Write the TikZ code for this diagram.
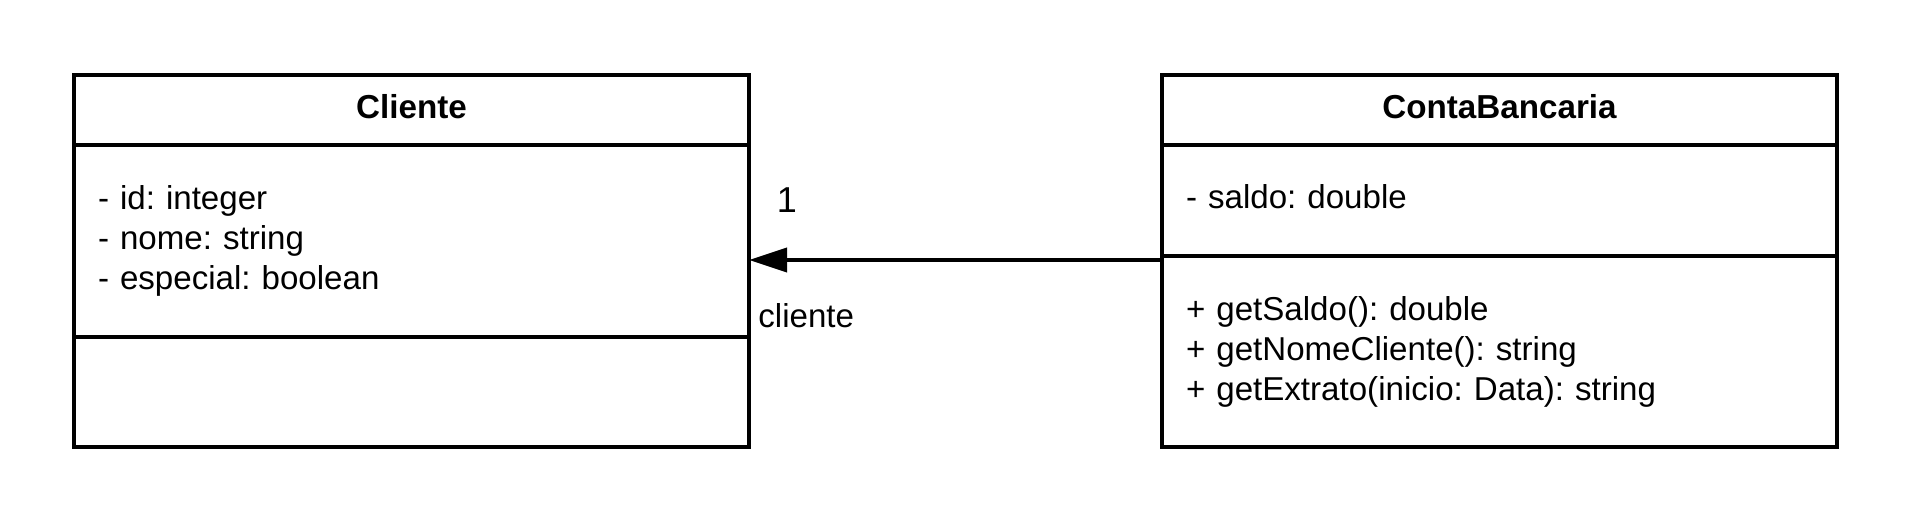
\documentclass[tikz,border=0pt]{standalone}
\usepackage{fontspec}
\setmainfont{Liberation Sans}
\usetikzlibrary{positioning,arrows.meta}

\tikzset{
  umlpart/.style={draw, line width=1.9pt, rectangle, outer sep=0pt, inner xsep=12pt, inner ysep=0pt,
    minimum width=337.5pt, text width=313.5pt, align=left, font=\fontsize{16.55}{20}\selectfont},
  umlhead/.style={umlpart, minimum height=35.15pt, text depth=4pt, align=center, font=\fontsize{16.6}{20}\selectfont\bfseries},
  assoc/.style={line width=1.9pt, -{Triangle[length=19pt,width=12pt]}},
  endlabel/.style={inner sep=0pt, font=\fontsize{16.55}{20}\selectfont},
}

\begin{document}
\frenchspacing
\begin{tikzpicture}[x=0.5pt,y=-0.5pt]
	\useasboundingbox (0,0) rectangle (1913,523);
	% class Cliente
	\node[umlhead, anchor=north west] (cliHead) at (74,75) {Cliente};
	\node[umlpart, below=0pt of cliHead, minimum height=95.7pt] (cliAttr) {- id: integer\\- nome: string\\- especial: boolean};
	\node[umlpart, below=0pt of cliAttr, minimum height=55.3pt] (cliOps) {};
	% class ContaBancaria
	\node[umlhead, anchor=north west] (contaHead) at (1162,75) {ContaBancaria};
	\node[umlpart, below=0pt of contaHead, minimum height=55.2pt, text depth=3.7pt] (contaAttr) {- saldo: double};
	\node[umlpart, below=0pt of contaAttr, minimum height=95.8pt] (contaOps) {+ getSaldo(): double\\+ getNomeCliente(): string\\+ getExtrato(inicio: Data): string};
	% association
	\coordinate (assocY) at (0,260);
	\draw[assoc] (contaOps.west |- assocY) -- (cliAttr.east |- assocY);
	\node[endlabel, font=\fontsize{18}{20}\selectfont] (multCli) at (787,200) {1};
	\node[endlabel, anchor=base west] (roleCli) at (758,328) {cliente};
\end{tikzpicture}
\end{document}
